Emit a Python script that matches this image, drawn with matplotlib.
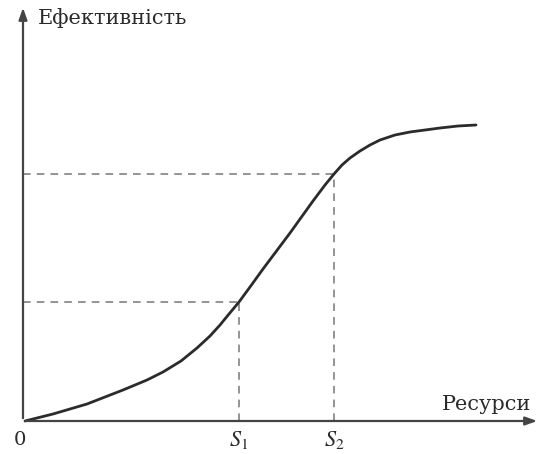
import numpy as np
import matplotlib.pyplot as plt

# curve (resources vs efficiency, arbitrary units)
res = [2, 30, 64, 100, 124, 140, 158, 174, 187, 197, 206, 216, 227, 240, 267,
       290, 302, 311, 319, 327, 337, 347, 357, 372, 387, 402, 417, 435, 453]
eff = [0, 7, 17, 31, 41, 49, 60, 73, 85, 96, 107, 119, 134, 152, 188,
       220, 236, 247, 256, 263, 270, 276, 281, 286, 289, 291, 293, 295, 296]

s_labels = ["$S_1$", "$S_2$"]
s_x = [216, 311]
s_y = [119, 247]

x_label = "Ресурси"
y_label = "Ефективність"

fig = plt.figure(figsize=(5.42, 4.54), dpi=100)
ax = fig.add_axes([0, 0, 1, 1])
ax.set_xlim(-23, 519)
ax.set_ylim(-33, 421)
ax.axis("off")

axis_col = "#444444"
# axes with arrows
ax.annotate("", xy=(517, 0), xytext=(0, 0),
            arrowprops=dict(arrowstyle="-|>,head_length=0.7,head_width=0.25", lw=1.6, color=axis_col))
ax.annotate("", xy=(0, 416), xytext=(0, 0),
            arrowprops=dict(arrowstyle="-|>,head_length=0.7,head_width=0.25", lw=1.6, color=axis_col))

# guide lines
for sx, sy in zip(s_x, s_y):
    ax.plot([0, sx], [sy, sy], color="#777777", lw=1.1, ls=(0, (5, 4)))
    ax.plot([sx, sx], [0, sy], color="#777777", lw=1.1, ls=(0, (5, 4)))

ax.plot(res, eff, color="#2b2b2b", lw=2.0, solid_capstyle="round", solid_joinstyle="round")

font = "DejaVu Serif"
ax.text(15, 403, y_label, fontsize=15, family=font, color="#2a2a2a", va="center", ha="left")
ax.text(508, 17, x_label, fontsize=15, family=font, color="#2a2a2a", va="center", ha="right")
ax.text(-3, -19, "0", fontsize=14, family=font, color="#2a2a2a", va="center", ha="center")
for lab, sx in zip(s_labels, s_x):
    ax.text(sx, -19, lab, fontsize=16, family="Liberation Serif", color="#2a2a2a",
            va="center", ha="center", math_fontfamily="stix")

fig.savefig("out.png", dpi=100)
